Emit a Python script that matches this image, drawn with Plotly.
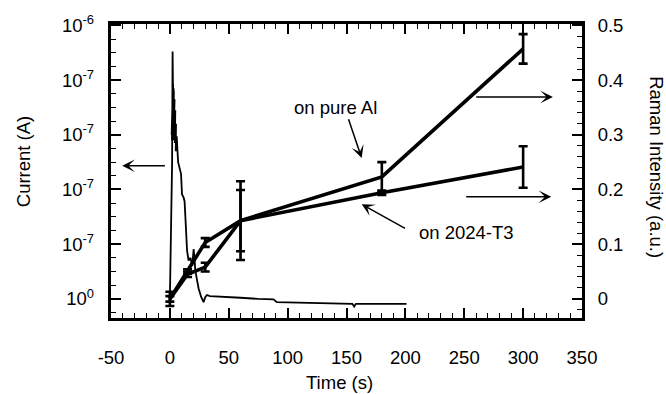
import plotly.graph_objects as go

# ---------------- data ----------------
# Current transient (plotted against the left axis, arbitrary scale)
current_time = [0, 1.0, 1.9, 2.3, 2.6, 1.5, 2.8, 1.7, 3.0, 1.9, 3.2, 2.1, 3.4, 2.3, 3.6, 2.5,
                3.8, 2.8, 4.0, 3.1, 4.3, 3.4, 4.6, 3.8, 4.9, 4.2, 5.2, 4.6, 5.5, 5.0, 5.8,
                6.4, 7.0, 7.6, 8.5, 9.5, 10.3, 11.7, 12.5, 13.2,
                13.7, 14.2, 14.6, 15.9, 17.5, 19.0, 20.2, 21.0, 21.6, 23.0, 24.4, 26.5,
                28.6, 30.0, 31.5, 34.0, 37.1, 45.0, 52.7, 60.0, 75.0, 88.0, 90.8, 107.8,
                130.0, 155.0, 156.5, 158.0, 167.0, 185.0, 201.0]
current_value = [0, 0.12, 0.25, 0.452, 0.39, 0.30, 0.392, 0.29, 0.388, 0.30, 0.385, 0.29,
                 0.38, 0.30, 0.375, 0.29, 0.37, 0.30, 0.365, 0.29, 0.355, 0.295, 0.345,
                 0.29, 0.335, 0.285, 0.32, 0.28, 0.31, 0.27, 0.297, 0.27, 0.25, 0.245,
                 0.235, 0.228, 0.191, 0.185, 0.178, 0.15, 0.146, 0.11, 0.088, 0.070,
                 0.075, 0.06, 0.091, 0.07, 0.052, 0.035, 0.019, 0.004, -0.006, 0.003,
                 0.007, 0.005, 0.0045, 0.004, 0.003, 0.002, 0.0, -0.001, -0.006, -0.007,
                 -0.008, -0.009, -0.014, -0.009, -0.009, -0.009, -0.009]

# Raman intensity (right axis)
raman_time = [0, 15, 30, 60, 180, 300]
pure_al = [0, 0.05, 0.103, 0.143, 0.223, 0.457]
pure_al_err = [0.013, 0.004, 0.008, 0.072, 0.027, 0.027]
aa2024 = [0, 0.045, 0.058, 0.143, 0.194, 0.241]
aa2024_err = [0.005, 0.005, 0.008, 0.056, 0.004, 0.038]

x_ticks = [-50, 0, 50, 100, 150, 200, 250, 300, 350]
x_ticktext = ["-50", "0", "50", "100", "150", "200", "250", "300", "350"]
right_ticks = [0, 0.1, 0.2, 0.3, 0.4, 0.5]
right_ticktext = ["0", "0.1", "0.2", "0.3", "0.4", "0.5"]
left_ticktext = ["10<sup>0</sup>", "10<sup>-7</sup>", "10<sup>-7</sup>", "10<sup>-7</sup>",
                 "10<sup>-7</sup>", "10<sup>-6</sup>"]

FONT = "Liberation Sans, Arial, sans-serif"
FS = 18.5
YR = [-0.035, 0.5025]
PAD = "\u00a0\u00a0"

fig = go.Figure()

fig.add_trace(go.Scatter(x=current_time, y=current_value, mode="lines",
                         line=dict(color="black", width=1.8), yaxis="y",
                         showlegend=False, hoverinfo="skip"))

for vals, errs in ((pure_al, pure_al_err), (aa2024, aa2024_err)):
    fig.add_trace(go.Scatter(x=raman_time, y=vals, mode="lines", yaxis="y2",
                             line=dict(color="black", width=3.6),
                             error_y=dict(type="data", array=errs, visible=True,
                                          color="black", thickness=2.6, width=4.5),
                             showlegend=False, hoverinfo="skip"))

axis_common = dict(showgrid=False, zeroline=False, showline=True, linecolor="black",
                   linewidth=3, ticks="inside", tickcolor="black", tickwidth=1.6,
                   ticklen=10)

fig.update_layout(
    width=666, height=394,
    margin=dict(l=111, r=84, t=22, b=76),
    paper_bgcolor="white", plot_bgcolor="white",
    font=dict(family=FONT, size=FS, color="black"),
    xaxis=dict(range=[-50, 350], tickvals=x_ticks, ticktext=x_ticktext, mirror="ticks",
               minor=dict(dtick=10, ticks="inside", ticklen=5, tickwidth=1.4,
                          tickcolor="black"),
               ticklabelstandoff=21, tickfont=dict(size=FS), **axis_common),
    yaxis=dict(range=YR, tickvals=right_ticks, ticktext=[t + PAD for t in left_ticktext],
               minor=dict(tickvals=[i * 0.025 for i in range(-1, 21)], ticks="inside",
                          ticklen=5, tickwidth=1.4, tickcolor="black"),
               tickfont=dict(size=FS), **axis_common),
    yaxis2=dict(range=YR, overlaying="y", side="right", tickvals=right_ticks,
                ticktext=right_ticktext,
                minor=dict(tickvals=[i * 0.02 for i in range(-1, 26)], ticks="inside",
                           ticklen=5, tickwidth=1.4, tickcolor="black"),
                ticklabelstandoff=9, tickfont=dict(size=FS), **axis_common),
)

ann = []
# axis titles
ann.append(dict(text="Time (s)", x=0.485, y=-0.22, xref="paper", yref="paper",
                showarrow=False, xanchor="center", yanchor="middle", font=dict(size=FS)))
ann.append(dict(text="Current (A)", x=-0.1864, y=0.534, xref="paper", yref="paper",
                showarrow=False, textangle=-90, xanchor="center", yanchor="middle",
                font=dict(size=FS)))
ann.append(dict(text="Raman Intensity (a.u.)", x=1.159, y=0.5135, xref="paper",
                yref="paper", showarrow=False, textangle=90, xanchor="center",
                yanchor="middle", font=dict(size=FS)))
# labels
ann.append(dict(text="on pure Al", x=141, y=0.349, xref="x", yref="y2", showarrow=False,
                font=dict(size=FS)))
ann.append(dict(text="on 2024-T3", x=252, y=0.121, xref="x", yref="y2", showarrow=False,
                font=dict(size=FS)))

# arrows: (head x, head y, tail x, tail y)
arrows = [(-40.5, 0.2433, -3.0, 0.2433),
          (325.3, 0.369, 258.9, 0.369),
          (323.9, 0.1867, 250.4, 0.1867),
          (162.9, 0.2575, 151.3, 0.331),
          (162.9, 0.173, 201.0, 0.1275)]
for hx, hy, tx, ty in arrows:
    ann.append(dict(x=hx, y=hy, ax=tx, ay=ty, xref="x", yref="y2", axref="x", ayref="y2",
                    showarrow=True, arrowhead=3, arrowsize=1.4, arrowwidth=1.5,
                    arrowcolor="black", text=""))

fig.update_layout(annotations=ann)
fig.write_html("out.html", config={"displayModeBar": False},
               post_script="document.body.style.margin='0';document.body.style.padding='0';")
